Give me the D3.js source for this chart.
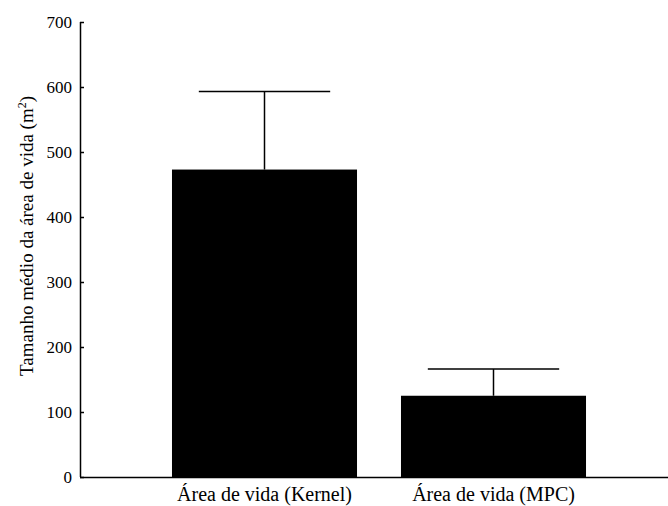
<!DOCTYPE html>
<html><head><meta charset="utf-8">
<script src="https://cdn.jsdelivr.net/npm/d3@7"></script>
<style>body{margin:0;background:#fff}svg text{font-family:"Liberation Serif","Times New Roman",serif;fill:#000}</style>
</head><body>
<svg id="c" width="668" height="506"></svg>
<script>
const categories = ["Área de vida (Kernel)", "Área de vida (MPC)"];
const means = [473, 125];
const upperErrors = [593, 166];
const yTicks = [0, 100, 200, 300, 400, 500, 600, 700];

const svg = d3.select("#c");
const y = d3.scaleLinear().domain([0, 700]).range([477, 22]);
const x = d3.scaleBand().domain(categories).range([150, 608]).paddingInner(0.192).paddingOuter(0.096);
const axisX = 80;
const serif = '"Liberation Serif", "Times New Roman", serif';

// bars
svg.selectAll("rect.bar").data(categories).enter().append("rect")
  .attr("x", d => x(d)).attr("width", x.bandwidth())
  .attr("y", (d, i) => y(means[i])).attr("height", (d, i) => y(0) - y(means[i]))
  .attr("fill", "#000");

// error bars
const capHalf = x.bandwidth() * 0.355;
categories.forEach((d, i) => {
  const cx = x(d) + x.bandwidth() / 2;
  svg.append("line").attr("x1", cx).attr("x2", cx).attr("y1", y(means[i])).attr("y2", y(upperErrors[i]))
    .attr("stroke", "#000").attr("stroke-width", 1.5);
  svg.append("line").attr("x1", cx - capHalf).attr("x2", cx + capHalf).attr("y1", y(upperErrors[i])).attr("y2", y(upperErrors[i]))
    .attr("stroke", "#000").attr("stroke-width", 1.5);
});

// y axis
const yAxis = d3.axisRight(y).tickValues(yTicks).tickSize(4).tickFormat(d3.format("d"));
const gy = svg.append("g").attr("transform", `translate(${axisX},0)`).call(yAxis)
  .attr("font-family", serif).attr("font-size", 17);
gy.select(".domain").attr("d", `M0.5,${y(700)}V${y(0)}`).attr("stroke", "#000").attr("stroke-width", 1.5);
gy.selectAll(".tick line").attr("stroke", "#000").attr("stroke-width", 1.5);
gy.selectAll(".tick text").attr("x", -8).attr("text-anchor", "end").attr("dy", "0.35em")
  .style("font-size", "17px").style("font-family", serif);

// x axis
const xAxis = d3.axisBottom(x).tickSize(0).tickPadding(0);
const gx = svg.append("g").attr("transform", `translate(0,${y(0)})`).call(xAxis)
  .attr("font-family", serif).attr("font-size", 20);
gx.select(".domain").attr("d", `M${axisX},0.5H668`).attr("stroke", "#000").attr("stroke-width", 1.5);
gx.selectAll(".tick text").style("font-size", "20px").style("font-family", serif).attr("y", 24).attr("dy", 0);

// y title
const t = svg.append("text").attr("transform", "translate(33,236) rotate(-90)")
  .attr("text-anchor", "middle").style("font-size", "19px").style("font-family", serif);
t.append("tspan").text("Tamanho médio da área de vida (m");
t.append("tspan").text("2").attr("baseline-shift", "super").style("font-size", "12px");
t.append("tspan").text(")");
</script>
</body></html>
